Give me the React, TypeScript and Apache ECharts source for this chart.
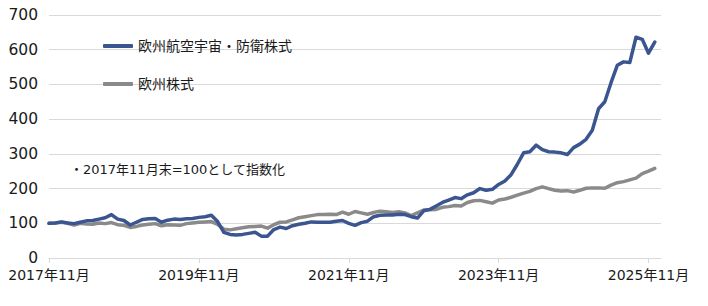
import React, { useEffect, useRef } from "react";
import * as echarts from "echarts";

// Monthly index values, 2017-11 = 100
const aerospaceDefense: number[] = [
  100, 101, 104, 101, 99, 103, 107, 108, 112, 116, 125, 112,
  108, 95, 103, 111, 113, 114, 103, 109, 112, 111, 113, 114,
  117, 119, 123, 105, 74, 68, 66, 68, 71, 74, 63, 63,
  82, 89, 85, 93, 97, 100, 104, 103, 103, 103, 106, 108,
  100, 94, 102, 106, 119, 123, 124, 124, 126, 125, 119, 115,
  136, 140, 150, 160, 167, 174, 171, 182, 188, 200, 195, 198,
  212, 222, 240, 270, 303, 306, 325, 312, 306, 305, 303, 298,
  318, 328, 342, 368, 430, 450, 505, 555, 565, 563, 636, 630,
  590, 622,
];

const europeStocks: number[] = [
  100, 101, 103, 100, 95, 100, 98, 97, 101, 99, 102, 96,
  94, 88, 91, 95, 97, 99, 93, 96, 95, 94, 99, 101,
  103, 104, 105, 97, 83, 81, 84, 87, 90, 91, 92, 86,
  96, 103, 104, 110, 116, 119, 122, 125, 125, 126, 125, 132,
  126, 134, 130, 126, 131, 135, 133, 131, 133, 130, 122, 130,
  138, 139, 140, 146, 148, 151, 150, 160, 165, 166, 162, 158,
  167, 170, 175, 181, 187, 192, 200, 205, 200, 195, 193, 194,
  190, 195, 201, 202, 202, 201, 210, 217, 220, 225, 230, 243,
  250, 258,
];

const seriesNames: string[] = ["欧州航空宇宙・防衛株式", "欧州株式"];
const noteText = "・2017年11月末=100として指数化";
const yTicks: number[] = [0, 100, 200, 300, 400, 500, 600, 700];

// Month categories from 2017-11 to 2026-01
const months: string[] = [];
{
  let y = 2017;
  let m = 11;
  for (let k = 0; k < 99; k++) {
    months.push(`${y}年${m}月`);
    m++;
    if (m > 12) {
      m = 1;
      y++;
    }
  }
}

const FONT = "'DejaVu Sans', 'Noto Sans CJK JP', sans-serif";

export default function App() {
  const ref = useRef<HTMLDivElement>(null);
  useEffect(() => {
    if (!ref.current) return;
    const chart = echarts.init(ref.current, undefined, { renderer: "svg" });
    chart.setOption({
      animation: false,
      backgroundColor: "#ffffff",
      grid: { left: 49, right: 47, top: 15, bottom: 48, containLabel: false },
      legend: {
        orient: "vertical",
        left: 98,
        top: 34,
        itemGap: 24,
        itemWidth: 30,
        itemHeight: 4,
        icon: "roundRect",
        textStyle: { fontSize: 14, color: "#1a1a1a", fontFamily: FONT },
        data: seriesNames,
      },
      graphic: [
        {
          type: "text",
          left: 70,
          top: 163,
          style: {
            text: noteText,
            fontSize: 13,
            fill: "#1a1a1a",
            fontFamily: FONT,
          },
        },
      ],
      xAxis: {
        type: "category",
        data: months,
        boundaryGap: false,
        axisLine: { lineStyle: { color: "#d9d9d9", width: 1 } },
        axisTick: {
          show: true,
          interval: 23,
          length: 5,
          lineStyle: { color: "#d9d9d9" },
        },
        axisLabel: {
          interval: 23,
          margin: 10,
          fontSize: 14,
          color: "#1a1a1a",
          fontFamily: FONT,
        },
        splitLine: { show: false },
      },
      yAxis: {
        type: "value",
        min: yTicks[0],
        max: yTicks[yTicks.length - 1],
        interval: 100,
        axisLine: { show: false },
        axisTick: { show: false },
        axisLabel: {
          margin: 11,
          fontSize: 15.5,
          color: "#1a1a1a",
          fontFamily: FONT,
        },
        splitLine: { lineStyle: { color: "#d9d9d9", width: 1.2 } },
      },
      series: [
        {
          name: seriesNames[1],
          type: "line",
          data: europeStocks,
          symbol: "none",
          color: "#8a8a8a",
          lineStyle: { width: 3.5, color: "#8a8a8a", cap: "round", join: "round" },
          z: 2,
        },
        {
          name: seriesNames[0],
          type: "line",
          data: aerospaceDefense,
          symbol: "none",
          color: "#3b5590",
          lineStyle: { width: 3.5, color: "#3b5590", cap: "round", join: "round" },
          z: 3,
        },
      ],
    });
    return () => chart.dispose();
  }, []);
  return (
    <div
      ref={ref}
      style={{ position: "fixed", left: 0, top: 0, width: 708, height: 306 }}
    />
  );
}
